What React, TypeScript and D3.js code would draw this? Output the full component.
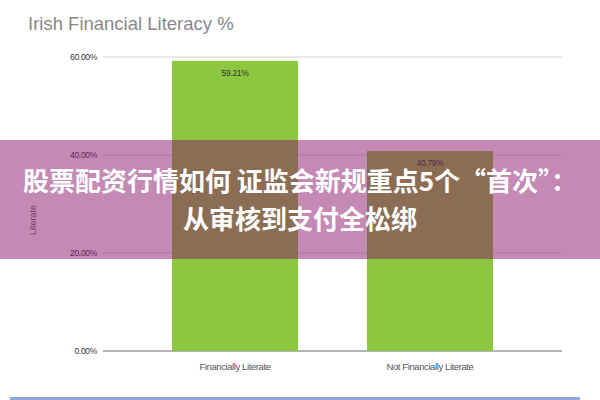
import * as d3 from "d3";

const WIDTH = 600;
const HEIGHT = 400;
const MARGIN = { top: 57, right: 38, bottom: 49, left: 103 };

const categories = ["Financially Literate", "Not Financially Literate"];
const values = [59.21, 40.79];
const yTicks = [0, 20, 40, 60];

const TITLE = "Irish Financial Literacy %";
const Y_LABEL = "Literate";
const BANNER_LINES = ["股票配资行情如何 证监会新规重点5个“首次”：", "从审核到支付全松绑"];

export default function App() {
  const boundsWidth = WIDTH - MARGIN.left - MARGIN.right;
  const boundsHeight = HEIGHT - MARGIN.top - MARGIN.bottom;

  const xScale = d3
    .scaleBand()
    .domain(categories)
    .range([0, boundsWidth])
    .paddingInner(0.354)
    .paddingOuter(0.354);

  const yScale = d3.scaleLinear().domain([0, 60]).range([boundsHeight, 0]);

  const fmt = (v: number) => v.toFixed(2) + "%";

  return (
    <svg
      width={WIDTH}
      height={HEIGHT}
      style={{ position: "absolute", left: 0, top: 0, background: "#fff" }}
      fontFamily="'Liberation Sans', Arial, sans-serif"
    >
      <text x={28} y={30} fontSize={18.5} fill="#888">
        {TITLE}
      </text>

      <g transform={`translate(${MARGIN.left},${MARGIN.top})`}>
        {yTicks.map((t) => (
          <g key={t}>
            <line
              x1={0}
              x2={boundsWidth}
              y1={yScale(t)}
              y2={yScale(t)}
              stroke={t === 0 ? "#9a9a9a" : "#e3e3e3"}
              strokeWidth={1.5}
            />
            <text
              x={-6}
              y={yScale(t)}
              dy="0.35em"
              textAnchor="end"
              fontSize={8.5}
              fill="#333"
              letterSpacing={-0.3}
            >
              {fmt(t)}
            </text>
          </g>
        ))}

        {categories.map((c, i) => {
          const x = xScale(c) ?? 0;
          const y = yScale(values[i]);
          return (
            <g key={c}>
              <rect
                x={x}
                y={y}
                width={xScale.bandwidth()}
                height={boundsHeight - y}
                fill="#8dc63f"
              />
              <text
                x={x + xScale.bandwidth() / 2}
                y={y + 15}
                textAnchor="middle"
                fontSize={8.5}
                fill="#333"
                letterSpacing={-0.3}
              >
                {fmt(values[i])}
              </text>
              <text
                x={x + xScale.bandwidth() / 2}
                y={boundsHeight + 19}
                textAnchor="middle"
                fontSize={9.5}
                fill="#555"
                letterSpacing={-0.4}
              >
                {c}
              </text>
            </g>
          );
        })}
      </g>

      <text
        transform="translate(36,220) rotate(-90)"
        textAnchor="middle"
        fontSize={9}
        fill="#666"
      >
        {Y_LABEL}
      </text>

      <rect x={0} y={140} width={WIDTH} height={119} fill="rgb(137,19,105)" opacity={0.5} />
      {BANNER_LINES.map((line, i) => (
        <text
          key={i}
          x={WIDTH / 2}
          y={191 + i * 38}
          textAnchor="middle"
          fontSize={26}
          fontWeight="bold"
          fill="#fff"
          fontFamily="'Noto Sans CJK SC', sans-serif"
        >
          {line}
        </text>
      ))}

      <rect x={10} y={397} width={570} height={3} fill="#92a6de" />
    </svg>
  );
}
